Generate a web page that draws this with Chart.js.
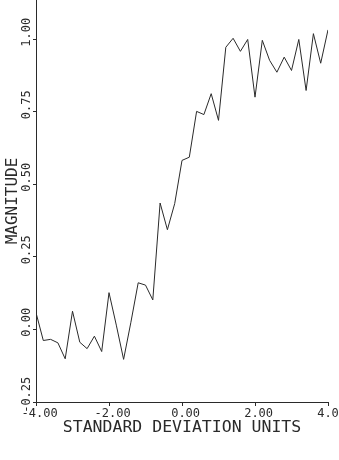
<!DOCTYPE html>
<html><head><meta charset="utf-8">
<script src="https://cdn.jsdelivr.net/npm/chart.js@4/dist/chart.umd.min.js"></script>
<style>html,body{margin:0;padding:0;background:#fff;overflow:hidden}#wrap{width:339px;height:460px}</style>
</head><body><div id="wrap"><canvas id="c" width="339" height="460"></canvas></div>
<script>
const xValues = [-4.0,-3.8,-3.6,-3.4,-3.2,-3.0,-2.8,-2.6,-2.4,-2.2,-2.0,-1.8,-1.6,-1.4,-1.2,-1.0,-0.8,-0.6,-0.4,-0.2,0.0,0.2,0.4,0.6,0.8,1.0,1.2,1.4,1.6,1.8,2.0,2.2,2.4,2.6,2.8,3.0,3.2,3.4,3.6,3.8,4.0];
const magnitude = [0.058,-0.038,-0.034,-0.046,-0.101,0.063,-0.044,-0.066,-0.023,-0.076,0.127,0.015,-0.103,0.025,0.161,0.153,0.102,0.436,0.344,0.434,0.583,0.594,0.752,0.741,0.813,0.721,0.973,1.004,0.959,1.0,0.801,0.997,0.928,0.887,0.939,0.893,1.0,0.824,1.02,0.918,1.033];
const xTicks = [-4,-2,0,2,4];
const xTickLabels = ["-4.00","-2.00","0.00","2.00","4.00"];
const yTicks = [-0.25,0,0.25,0.5,0.75,1.0];
const yTickLabels = ["-0.25","0.00","0.25","0.50","0.75","1.00"];
const xTitle = "STANDARD DEVIATION UNITS";
const yTitle = "MAGNITUDE";

const FONT = "'DejaVu Sans Mono', monospace";
const INK = '#2a2a2a';

new Chart(document.getElementById('c'), {
  type: 'line',
  data: { datasets: [{
    data: xValues.map((x, i) => ({ x: x, y: magnitude[i] })),
    borderColor: INK, borderWidth: 1, pointRadius: 0, tension: 0, fill: false
  }]},
  options: {
    responsive: false, animation: false, devicePixelRatio: 1,
    layout: { padding: { left: 0, right: 11, top: 0, bottom: 0 } },
    plugins: { legend: { display: false }, tooltip: { enabled: false } },
    scales: {
      x: {
        type: 'linear', min: -4, max: 4,
        afterBuildTicks: s => { s.ticks = xTicks.map(v => ({ value: v })); },
        afterFit: s => { s.height = 58; s.paddingLeft = 0; s.paddingRight = 0; },
        ticks: { callback: (v, i) => ' ' + xTickLabels[i], font: { family: FONT, size: 12 }, color: INK,
                 padding: 1, maxRotation: 0, minRotation: 0, autoSkip: false },
        grid: { drawOnChartArea: false, drawTicks: true, tickLength: 4, color: INK },
        border: { display: true, color: INK, width: 1 },
        title: { display: true, text: xTitle, font: { family: FONT, size: 16.5 }, color: INK, padding: { top: 0, bottom: 22 } }
      },
      y: {
        type: 'linear', min: -0.25, max: 1.136,
        afterBuildTicks: s => { s.ticks = yTicks.map(v => ({ value: v })); },
        afterFit: s => { s.width = 36; s.paddingTop = 0; s.paddingBottom = 0; },
        ticks: { callback: (v, i) => '  ' + yTickLabels[i], font: { family: FONT, size: 12 }, color: INK,
                 padding: -19, minRotation: 90, maxRotation: 90, crossAlign: 'center', autoSkip: false },
        grid: { drawOnChartArea: false, drawTicks: true, tickLength: 3, color: INK },
        border: { display: true, color: INK, width: 1 },
        title: { display: true, text: yTitle, font: { family: FONT, size: 16 }, color: INK, padding: { top: 3, bottom: 0 } }
      }
    }
  }
});
</script></body></html>
